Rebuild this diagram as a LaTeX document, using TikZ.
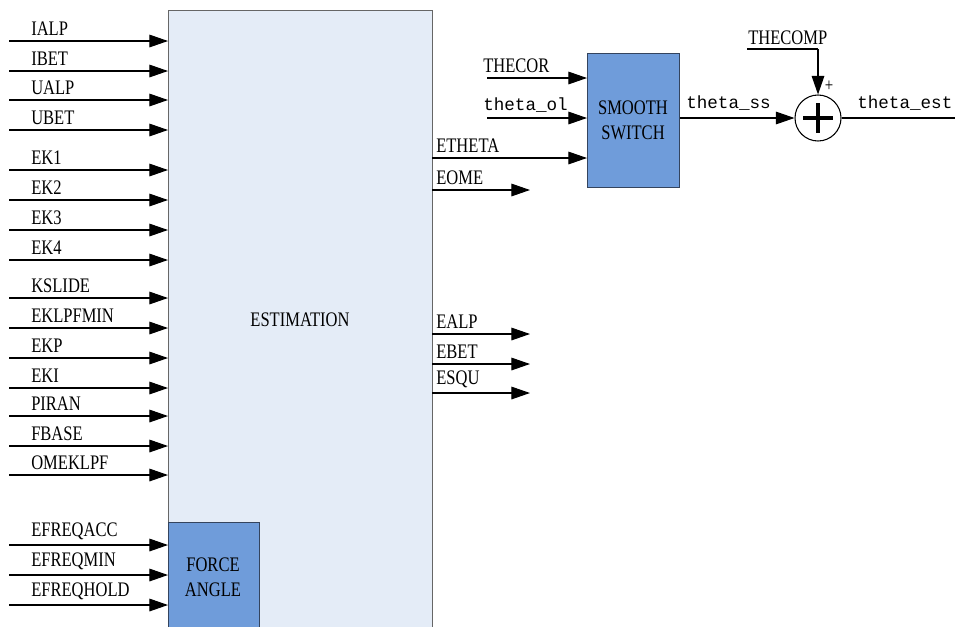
\documentclass[tikz,border=0pt]{standalone}
\usepackage{fontspec}
\setmainfont{Liberation Serif}[FakeStretch=0.8]
\newfontfamily\monof{Liberation Mono}
\usetikzlibrary{arrows.meta}
\definecolor{mainfill}{HTML}{E4ECF7}
\definecolor{blkfill}{HTML}{6F9CDA}
\definecolor{blkedge}{HTML}{34445E}
\begin{document}
\begin{tikzpicture}[x=0.75pt,y=-0.75pt,
  lbl/.style={font=\fontsize{15.5}{17}\selectfont, inner sep=0pt, anchor=south west},
  mlbl/.style={font=\monof\fontsize{13.2}{15}\selectfont, inner sep=0pt, anchor=south west},
  arr/.style={-{Triangle[length=14pt,width=9.5pt]}, line width=0.8pt},
  ln/.style={line width=0.8pt},
  blk/.style={draw=blkedge, fill=blkfill, line width=0.8pt, inner sep=0pt, anchor=north west},
  btext/.style={font=\fontsize{15.5}{19}\selectfont, align=center, inner sep=0pt}]
\useasboundingbox (0,0) rectangle (955,626);
% main block
\node[draw=gray!80!black, fill=mainfill, line width=0.8pt, inner sep=0pt, anchor=north west,
  minimum width=198pt, minimum height=472pt] (est) at (168,10) {};
\node[btext] (estt) at (300,320) {ESTIMATION};
% force angle
\node[blk, minimum width=68.25pt, minimum height=90pt] (fa) at (168,522) {};
\node[btext] (fat) at (213,577) {FORCE\\ANGLE};
% inputs
\foreach \nm/\yy in {IALP/41, IBET/71, UALP/100, UBET/130, EK1/170, EK2/200, EK3/230, EK4/260,
  KSLIDE/298, EKLPFMIN/328, EKP/358, EKI/388, PIRAN/416, FBASE/446, OMEKLPF/475,
  EFREQACC/545, EFREQMIN/575, EFREQHOLD/605} {
  \coordinate (in\nm) at (9,\yy);
  \draw[arr] (in\nm) -- (est.west |- in\nm);
  \node[lbl] (l\nm) at (31,\yy-5) {\nm};
}
% smooth switch
\node[blk, minimum width=69pt, minimum height=100.5pt] (ss) at (587,53) {};
\node[btext] (sst) at (633,120) {SMOOTH\\SWITCH};
\coordinate (thecor) at (487,78);
\draw[arr] (thecor) -- (ss.west |- thecor);
\node[lbl] (lthecor) at (483,73) {THECOR};
\coordinate (thol) at (487,118);
\draw[arr] (thol) -- (ss.west |- thol);
\node[mlbl] (lthol) at (483,113) {theta\_ol};
% outputs of estimation
\coordinate (eth) at (432,158);
\draw[arr] (eth) -- (ss.west |- eth);
\node[lbl] (leth) at (436,153) {ETHETA};
\foreach \nm/\yy in {EOME/190, EALP/334, EBET/364, ESQU/393} {
  \coordinate (o\nm) at (432,\yy);
  \coordinate (e\nm) at (530,\yy);
  \draw[arr] (o\nm) -- (e\nm);
  \node[lbl] (l\nm) at (436,\yy-5) {\nm};
}
% sum
\node[draw, circle, line width=0.8pt, minimum size=34.5pt, inner sep=0pt] (sum) at (818,118) {};
\draw[line width=2.4pt] ([xshift=-11pt]sum.center) -- ([xshift=11pt]sum.center)
  ([yshift=-11pt]sum.center) -- ([yshift=11pt]sum.center);
\draw[arr] (ss.east |- sum) -- (sum.west);
\node[mlbl] (lthss) at (686,111) {theta\_ss};
\coordinate (tcs) at (747,49);
\draw[ln] (tcs) -- (sum.north |- tcs);
\draw[arr] (sum.north |- tcs) -- (sum.north);
\node[lbl] (lthecomp) at (748,45) {THECOMP};
\node[font=\fontsize{14}{15}\selectfont, inner sep=0pt] (plus) at (829,86) {+};
\coordinate (tend) at (955,118);
\draw[ln] (sum.east) -- (tend);
\node[mlbl] (lthest) at (857,111) {theta\_est};
\end{tikzpicture}
\end{document}
